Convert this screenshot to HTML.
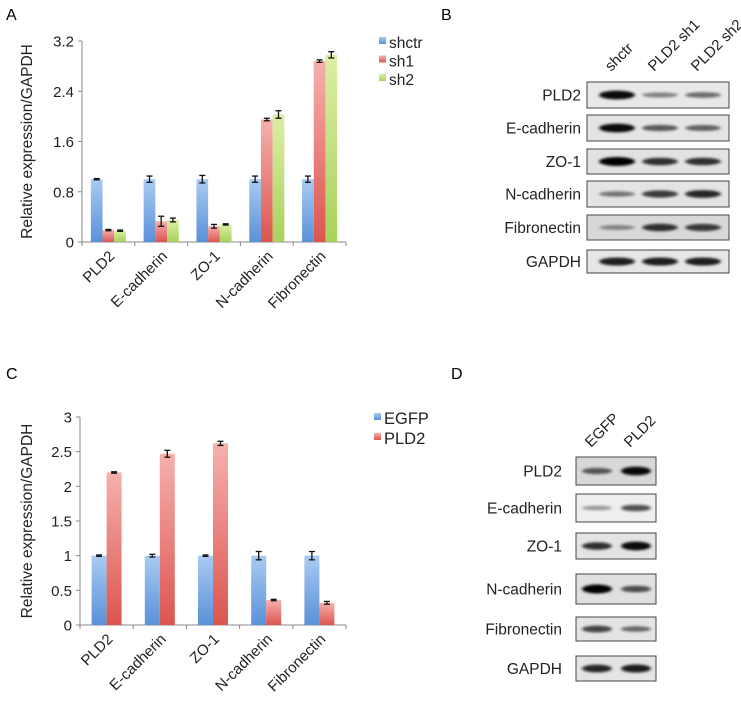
<!DOCTYPE html>
<html><head><meta charset="utf-8">
<style>
body{margin:0;background:#fff;}
svg{display:block;font-family:"Liberation Sans",Arial,sans-serif;}
</style></head>
<body>
<svg id="fig" width="741" height="709" viewBox="0 0 741 709" xmlns="http://www.w3.org/2000/svg">
<defs>
<linearGradient id="gBlue" x1="0" y1="0" x2="0" y2="1"><stop offset="0" stop-color="#a9cbf2"/><stop offset="1" stop-color="#5a91d8"/></linearGradient>
<linearGradient id="gRed" x1="0" y1="0" x2="0" y2="1"><stop offset="0" stop-color="#f6b0ad"/><stop offset="1" stop-color="#dc5550"/></linearGradient>
<linearGradient id="gGreen" x1="0" y1="0" x2="0" y2="1"><stop offset="0" stop-color="#dcefa6"/><stop offset="1" stop-color="#a9d15b"/></linearGradient>
<filter id="blur" x="-20%" y="-100%" width="140%" height="300%"><feGaussianBlur stdDeviation="1.6 1.2"/></filter>
</defs>
<text x="6" y="20" font-size="16">A</text>
<text x="441" y="20" font-size="16">B</text>
<text x="6" y="379" font-size="16">C</text>
<text x="451" y="379" font-size="16">D</text>
<g id="chartA"></g>
<g id="chartC"></g>
<g id="blotB"></g>
<g id="blotD"></g>
</svg>
<script>
const categories = ["PLD2","E-cadherin","ZO-1","N-cadherin","Fibronectin"];
const aSeriesNames = ["shctr","sh1","sh2"];
const aShctr = [1,1,1,1,1];
const aSh1 = [0.19,0.33,0.25,1.95,2.88];
const aSh2 = [0.18,0.35,0.28,2.03,2.98];
const aErrShctr = [0.01,0.05,0.06,0.05,0.05];
const aErrSh1 = [0.01,0.08,0.03,0.02,0.02];
const aErrSh2 = [0.01,0.03,0.01,0.06,0.05];
const aTicks = [0,0.8,1.6,2.4,3.2];
const aTickLabels = ["0","0.8","1.6","2.4","3.2"];
const cSeriesNames = ["EGFP","PLD2"];
const cEgfp = [1,1,1,1,1];
const cPld2 = [2.2,2.47,2.62,0.36,0.32];
const cErrEgfp = [0.01,0.02,0.01,0.06,0.06];
const cErrPld2 = [0.01,0.05,0.03,0.01,0.02];
const cTicks = [0,0.5,1,1.5,2,2.5,3];
const cTickLabels = ["0","0.5","1","1.5","2","2.5","3"];
const bProteins = ["PLD2","E-cadherin","ZO-1","N-cadherin","Fibronectin","GAPDH"];
const bLanes = ["shctr","PLD2 sh1","PLD2 sh2"];
const bIntensity = [[0.95,0.35,0.45],[0.95,0.55,0.5],[1,0.75,0.75],[0.4,0.7,0.8],[0.3,0.75,0.7],[0.85,0.85,0.85]];
const dProteins = ["PLD2","E-cadherin","ZO-1","N-cadherin","Fibronectin","GAPDH"];
const dLanes = ["EGFP","PLD2"];
const dIntensity = [[0.55,0.95],[0.25,0.6],[0.75,0.95],[1,0.6],[0.65,0.45],[0.8,0.85]];

const NS="http://www.w3.org/2000/svg";
function mk(tag,attrs,parent,text){const e=document.createElementNS(NS,tag);for(const k in attrs)e.setAttribute(k,attrs[k]);if(text!==undefined)e.textContent=text;parent.appendChild(e);return e;}

function barChart(g,o){
  const yScale=v=>o.y0-(v/o.max)*(o.y0-o.yTop);
  const catW=(o.x1-o.x0)/categories.length;
  const ya=mk('line',{x1:o.x0,y1:o.yTop,x2:o.x0,y2:o.y0,stroke:'#888','stroke-width':1},g);
  
  const xa=mk('line',{x1:o.x0,y1:o.y0,x2:o.x1,y2:o.y0,stroke:'#888','stroke-width':1},g);
  
  o.ticks.forEach((t,i)=>{
    const y=yScale(t);
    mk('line',{x1:o.x0-4,y1:y,x2:o.x0,y2:y,stroke:'#888'},g);
    const tl=mk('text',{x:o.x0-8,y:y+5.5,'font-size':15,'text-anchor':'end',fill:'#222'},g,o.tickLabels[i]);
    
  });
  for(let i=0;i<=categories.length;i++){const x=o.x0+i*catW;mk('line',{x1:x,y1:o.y0,x2:x,y2:o.y0+4,stroke:'#888'},g);}
  const yt=mk('text',{x:0,y:0,'font-size':15.5,'text-anchor':'middle',fill:'#222',transform:`translate(${o.titleX},${(o.yTop+o.y0)/2}) rotate(-90)`},g,'Relative expression/GAPDH');
  
  const n=o.series.length;
  const groupW=o.barW*n;
  categories.forEach((c,ci)=>{
    const cx=o.x0+ci*catW+catW/2;
    o.series.forEach((s,si)=>{
      const x=cx-groupW/2+si*o.barW;
      const v=s.vals[ci];
      const r=mk('rect',{x:x,y:yScale(v),width:o.barW,height:o.y0-yScale(v),fill:s.fill},g);
      
      const e=s.err[ci],bx=x+o.barW/2;
      const eg=mk('g',{stroke:'#111','stroke-width':1.3},g);
      
      mk('line',{x1:bx,y1:yScale(v+e),x2:bx,y2:yScale(v-e)},eg);
      mk('line',{x1:bx-3,y1:yScale(v+e),x2:bx+3,y2:yScale(v+e)},eg);
      mk('line',{x1:bx-3,y1:yScale(v-e),x2:bx+3,y2:yScale(v-e)},eg);
    });
    const xl=mk('text',{x:0,y:0,'font-size':15,'text-anchor':'end',fill:'#222',transform:`translate(${cx+7},${o.y0+15}) rotate(-45)`},g,c);
    
  });
  o.series.forEach((s,si)=>{
    const y=o.legY+si*o.legStep;
    const sq=mk('rect',{x:o.legX,y:y-5,width:7,height:7,fill:s.fill},g);
    
    const lt=mk('text',{x:o.legX+10,y:y+6,'font-size':o.legFont,fill:'#222'},g,s.label);
    
  });
}

barChart(document.getElementById('chartA'),{x0:82,x1:346,yTop:41,y0:242,max:3.2,ticks:aTicks,tickLabels:aTickLabels,titleX:32,barW:11.7,
  legX:379,legY:42,legStep:18.5,legFont:15.5,
  series:[{name:'shctr',label:aSeriesNames[0],vals:aShctr,err:aErrShctr,fill:'url(#gBlue)'},
          {name:'sh1',label:aSeriesNames[1],vals:aSh1,err:aErrSh1,fill:'url(#gRed)'},
          {name:'sh2',label:aSeriesNames[2],vals:aSh2,err:aErrSh2,fill:'url(#gGreen)'}]});
barChart(document.getElementById('chartC'),{x0:80,x1:346,yTop:417,y0:625,max:3,ticks:cTicks,tickLabels:cTickLabels,titleX:32,barW:15,
  legX:374,legY:418,legStep:20,legFont:16.5,
  series:[{name:'egfp',label:cSeriesNames[0],vals:cEgfp,err:cErrEgfp,fill:'url(#gBlue)'},
          {name:'pld2',label:cSeriesNames[1],vals:cPld2,err:cErrPld2,fill:'url(#gRed)'}]});

function blot(g,o){
  o.lanes.forEach((l,li)=>{
    const t=mk('text',{x:0,y:0,'font-size':15,fill:'#222',transform:`translate(${o.laneX[li]-6},${o.headerY}) rotate(-45)`},g,l);
    
  });
  o.proteins.forEach((p,pi)=>{
    const [y,h]=o.rows[pi];
    const lb=mk('text',{x:o.labelX,y:y+h/2+5.5,'font-size':15.5,'text-anchor':'end',fill:'#222'},g,p);
    
    const bg=mk('rect',{x:o.bx,y:y,width:o.bw,height:h,fill:o.bgs[pi],stroke:'#444','stroke-width':1},g);
    
    o.lanes.forEach((l,li)=>{
      const v=o.inten[pi][li];
      const e=mk('ellipse',{cx:o.laneX[li],cy:y+h/2,rx:o.bandW/2,ry:1.5+v*3,fill:'#000','fill-opacity':0.15+v*0.85,filter:'url(#blur)'},g);
      
    });
  });
}
blot(document.getElementById('blotB'),{proteins:bProteins,lanes:bLanes,inten:bIntensity,labelX:581,bx:587,bw:142,bandW:36,headerY:72,
  laneX:[617,660,703],rows:[[82,26],[115,26],[149,25],[181,26],[215,25],[250,23]],
  bgs:['#e8e8e8','#e4e4e4','#e2e2e2','#e4e4e4','#d8d8d8','#e6e6e6']});
blot(document.getElementById('blotD'),{proteins:dProteins,lanes:dLanes,inten:dIntensity,labelX:562,bx:576,bw:80,bandW:30,headerY:448,
  laneX:[597,636],rows:[[457,28],[494,28],[533,26],[574,30],[617,24],[656,25]],
  bgs:['#d8d8d8','#eeeeee','#e4e4e4','#e0e0e0','#e4e4e4','#e4e4e4']});
</script>
</body></html>
